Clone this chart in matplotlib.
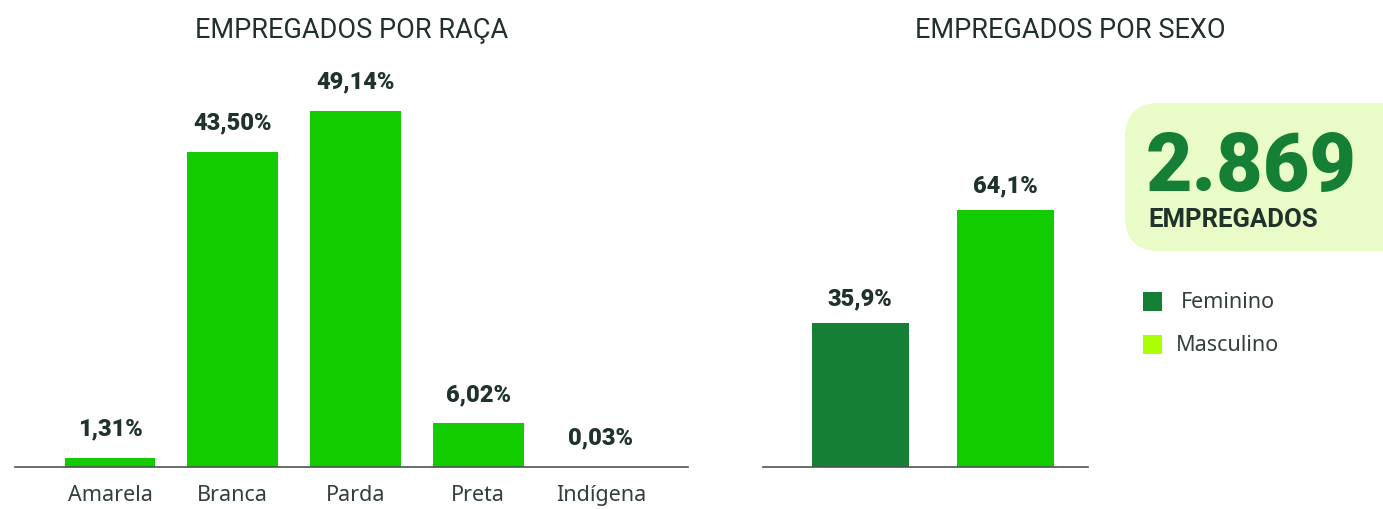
import matplotlib.pyplot as plt
from matplotlib.patches import FancyBboxPatch, Rectangle

# dados
racas = ["Amarela", "Branca", "Parda", "Preta", "Indígena"]
raca_pct = [1.31, 43.50, 49.14, 6.02, 0.03]
raca_lbl = ["1,31%", "43,50%", "49,14%", "6,02%", "0,03%"]

sexos = ["Feminino", "Masculino"]
sexo_pct = [35.9, 64.1]
sexo_lbl = ["35,9%", "64,1%"]
total = "2.869"

verde = "#12cc00"
verde_esc = "#158035"
lima = "#aaff00"
txt = "#1f332b"

W, H = 1383, 510
fig = plt.figure(figsize=(W / 100, H / 100), dpi=100)

def px(x0, y0, x1, y1):
    return [x0 / W, 1 - y1 / H, (x1 - x0) / W, (y1 - y0) / H]

# ---- raça
ax1 = fig.add_axes(px(15, 60, 688, 468))
ax1.bar(range(len(racas)), raca_pct, width=0.74, color=verde)
ax1.set_xlim(-0.774, 4.71)
ax1.set_ylim(0, 56.3)
for i, (v, l) in enumerate(zip(raca_pct, raca_lbl)):
    ax1.annotate(l, (i, v), xytext=(0, 13), textcoords="offset points",
                 ha="center", va="bottom", fontsize=17, fontweight="heavy",
                 family="Roboto", color=txt)
ax1.set_xticks(range(len(racas)))
ax1.set_xticklabels(racas, fontsize=15.5, family="Noto Sans", color="#333f3b")

# ---- sexo
ax2 = fig.add_axes(px(763, 60, 1088, 468))
ax2.bar(range(len(sexos)), sexo_pct, width=0.669, color=[verde_esc, verde])
ax2.set_xlim(-0.669, 1.572)
ax2.set_ylim(0, 101.7)
for i, (v, l) in enumerate(zip(sexo_pct, sexo_lbl)):
    ax2.annotate(l, (i, v), xytext=(0, 10), textcoords="offset points",
                 ha="center", va="bottom", fontsize=17, fontweight="heavy",
                 family="Roboto", color=txt)
ax2.set_xticks([])

for ax in (ax1, ax2):
    for s in ("top", "right", "left"):
        ax.spines[s].set_visible(False)
    ax.spines["bottom"].set_color("#4a5552")
    ax.spines["bottom"].set_linewidth(1.2)
    ax.set_yticks([])
    ax.tick_params(axis="x", length=0, pad=12)

fig.text(352 / W, 1 - 30 / H, "EMPREGADOS POR RAÇA", ha="center", va="center",
         fontsize=19.5, family="Roboto", fontweight="normal", color="#22302b")
fig.text(1070 / W, 1 - 30 / H, "EMPREGADOS POR SEXO", ha="center", va="center",
         fontsize=19.5, family="Roboto", fontweight="normal", color="#22302b")

# caixa do total
box = FancyBboxPatch((1125 / W, 1 - 252 / H), 300 / W, 148 / H,
                     boxstyle="round,pad=0,rounding_size=0.025",
                     transform=fig.transFigure, facecolor="#e9fbc6",
                     edgecolor="none", mutation_aspect=W / H)
fig.patches.append(box)
fig.text(1146 / W, 1 - 191 / H, total, ha="left", va="baseline",
         fontsize=58, fontweight="heavy", family="Roboto", color=verde_esc)
fig.text(1148 / W, 1 - 227 / H, "EMPREGADOS", ha="left", va="baseline",
         fontsize=18.5, fontweight="bold", family="Roboto", color=txt)

# legenda
for k, (nome, cor) in enumerate(zip(sexos, [verde_esc, lima])):
    y = 293 + 43 * k
    fig.patches.append(Rectangle((1143 / W, 1 - (y + 19) / H), 19 / W, 19 / H,
                                 transform=fig.transFigure, facecolor=cor,
                                 edgecolor="none"))
    fig.text((1181 - 5 * k) / W, 1 - (y + 9.5) / H, nome, ha="left", va="center",
             fontsize=15.5, family="Noto Sans", color="#333f3b")

fig.savefig("out.png", dpi=100)
